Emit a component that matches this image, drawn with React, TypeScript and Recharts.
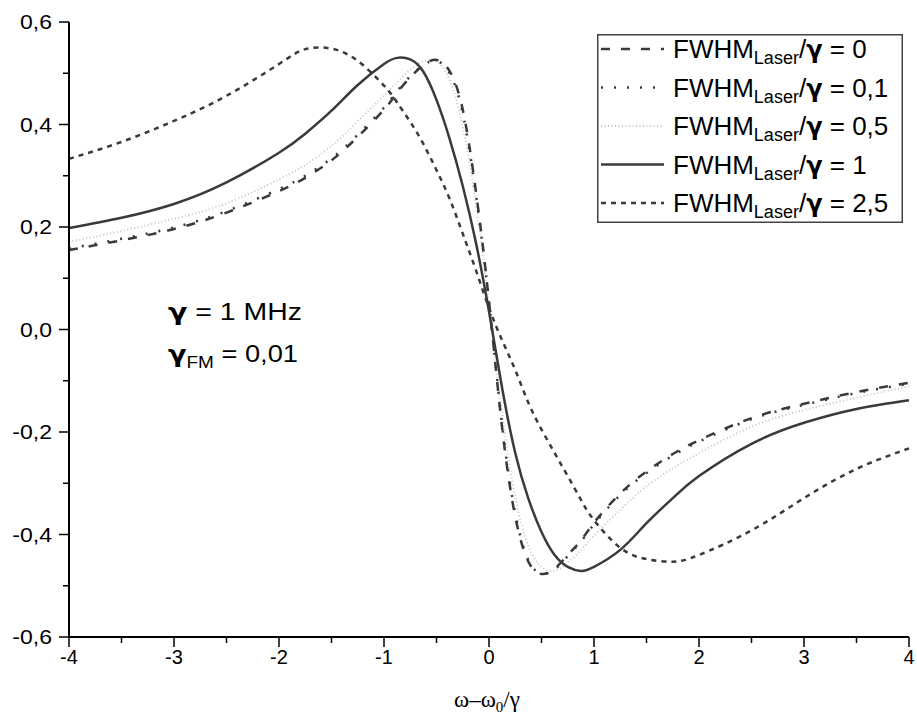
import { Legend, Line, LineChart, XAxis, YAxis } from "recharts";

// x positions (ω−ω0)/γ
const xs = [-4, -3.5, -3, -2.5, -2, -1.75, -1.5, -1.25, -1, -0.875, -0.75, -0.625, -0.5, -0.375, -0.25, -0.125, 0, 0.125, 0.25, 0.375, 0.5, 0.625, 0.75, 0.875, 1, 1.25, 1.5, 1.75, 2, 2.5, 3, 3.5, 4];

// FWHM_Laser/γ = 0
const fw0 = [0.155, 0.174, 0.196, 0.228, 0.27, 0.296, 0.33, 0.376, 0.429, 0.462, 0.492, 0.516, 0.526, 0.504, 0.429, 0.27, 0.055, -0.192, -0.365, -0.453, -0.477, -0.467, -0.44, -0.412, -0.377, -0.32, -0.277, -0.243, -0.216, -0.173, -0.145, -0.122, -0.104];
// FWHM_Laser/γ = 0,1
const fw01 = [0.158, 0.177, 0.199, 0.231, 0.274, 0.3, 0.334, 0.38, 0.433, 0.465, 0.494, 0.516, 0.524, 0.5, 0.422, 0.265, 0.055, -0.187, -0.359, -0.45, -0.476, -0.468, -0.442, -0.414, -0.38, -0.323, -0.28, -0.246, -0.219, -0.175, -0.147, -0.124, -0.106];
// FWHM_Laser/γ = 0,5
const fw05 = [0.171, 0.192, 0.216, 0.246, 0.293, 0.321, 0.358, 0.406, 0.457, 0.482, 0.507, 0.523, 0.523, 0.487, 0.396, 0.245, 0.047, -0.165, -0.327, -0.423, -0.463, -0.471, -0.455, -0.431, -0.402, -0.352, -0.306, -0.271, -0.241, -0.19, -0.157, -0.133, -0.111];
// FWHM_Laser/γ = 1
const fw1 = [0.198, 0.218, 0.245, 0.287, 0.345, 0.382, 0.427, 0.477, 0.518, 0.53, 0.527, 0.503, 0.448, 0.372, 0.28, 0.17, 0.035, -0.114, -0.241, -0.33, -0.395, -0.44, -0.463, -0.471, -0.463, -0.43, -0.378, -0.329, -0.286, -0.223, -0.182, -0.155, -0.138];
// FWHM_Laser/γ = 2,5
const fw25 = [0.333, 0.366, 0.407, 0.456, 0.518, 0.547, 0.548, 0.524, 0.476, 0.443, 0.405, 0.362, 0.311, 0.255, 0.187, 0.116, 0.042, -0.021, -0.079, -0.143, -0.195, -0.241, -0.286, -0.332, -0.372, -0.426, -0.448, -0.453, -0.44, -0.392, -0.329, -0.272, -0.232];

const xTicks = [-4, -3.5, -3, -2.5, -2, -1.5, -1, -0.5, 0, 0.5, 1, 1.5, 2, 2.5, 3, 3.5, 4];
const yTicks = [-0.6, -0.5, -0.4, -0.3, -0.2, -0.1, 0, 0.1, 0.2, 0.3, 0.4, 0.5, 0.6];
const legendLabels = ["0", "0,1", "0,5", "1", "2,5"];

const data = xs.map((x, i) => ({ x, a: fw0[i], b: fw01[i], c: fw05[i], d: fw1[i], e: fw25[i] }));

const dark = "#3a3a3a";
const font = "'Liberation Sans', Arial, sans-serif";
const greek = "'DejaVu Sans', sans-serif";

const series = [
  { key: "a", stroke: dark, width: 2.5, dash: "9 11" },
  { key: "b", stroke: dark, width: 2.5, dash: "2 11" },
  { key: "c", stroke: "#c4c4c4", width: 2, dash: "1 2.5" },
  { key: "d", stroke: dark, width: 2.5, dash: undefined },
  { key: "e", stroke: dark, width: 2.5, dash: "5 5" },
];

function YTick({ x, y, payload }: any) {
  const v = payload.value as number;
  const major = Math.round(v * 10) % 2 === 0;
  return (
    <g>
      <line x1={x} x2={x - (major ? 10 : 6)} y1={y} y2={y} stroke="#000" strokeWidth={1.5} />
      {major && (
        <text transform={`translate(${x - 17},${y + 7}) scale(1.15,1)`} textAnchor="end" fontSize={20} fontFamily={font} fill="#000">
          {v.toFixed(1).replace(".", ",")}
        </text>
      )}
    </g>
  );
}

function XTick({ x, y, payload }: any) {
  const v = payload.value as number;
  const major = Number.isInteger(v);
  return (
    <g>
      <line x1={x} x2={x} y1={y} y2={y + (major ? 10 : 6)} stroke="#000" strokeWidth={1.5} />
      {major && (
        <text x={x} y={y + 27} textAnchor="middle" fontSize={20} fontFamily={font} fill="#000">
          {v}
        </text>
      )}
    </g>
  );
}

function LegendBox() {
  const rows = [15, 53.5, 92, 130.5, 169];
  return (
    <svg width={306} height={189} style={{ display: "block" }}>
      <rect x={0.75} y={0.75} width={304.5} height={187.5} fill="#fff" stroke="#444" strokeWidth={1.5} />
      {series.map((s, i) => (
        <g key={s.key}>
          <line x1={4} x2={67} y1={rows[i]} y2={rows[i]} stroke={s.stroke} strokeWidth={s.width} strokeDasharray={s.dash} />
          <text x={76} y={rows[i] + 9} fontSize={26} fontFamily={font} fill="#000">
            FWHM<tspan fontSize={18} dy={6}>Laser</tspan>
            <tspan dy={-6}>/</tspan>
            <tspan fontFamily={greek} fontWeight={700} fontSize={24}>γ</tspan> = {legendLabels[i]}
          </text>
        </g>
      ))}
    </svg>
  );
}

export default function App() {
  return (
    <div style={{ position: "absolute", left: 0, top: 0, width: 917, height: 718, background: "#fff" }}>
      <LineChart width={917} height={718} data={data} margin={{ top: 22, right: 8, bottom: 40, left: 0 }}>
        <XAxis
          dataKey="x"
          type="number"
          domain={[-4, 4]}
          ticks={xTicks}
          interval={0}
          tickSize={0}
          tickMargin={0}
          tickLine={false}
          height={41}
          axisLine={{ stroke: "#000", strokeWidth: 2 }}
          tick={<XTick />}
        />
        <YAxis
          type="number"
          domain={[-0.6, 0.6]}
          ticks={yTicks}
          interval={0}
          tickSize={0}
          tickMargin={0}
          tickLine={false}
          width={69}
          axisLine={{ stroke: "#000", strokeWidth: 2 }}
          tick={<YTick />}
        />
        <Legend
          layout="horizontal"
          align="center"
          verticalAlign="middle"
          wrapperStyle={{ position: "absolute", left: 597, top: 34, width: 306, height: 189 }}
          content={() => <LegendBox />}
        />
        {[series[2], series[0], series[1], series[3], series[4]].map((s) => (
          <Line
            key={s.key}
            dataKey={s.key}
            type="natural"
            stroke={s.stroke}
            strokeWidth={s.width}
            strokeDasharray={s.dash}
            dot={false}
            activeDot={false}
            isAnimationActive={false}
          />
        ))}
      </LineChart>
      <svg width={917} height={718} style={{ position: "absolute", left: 0, top: 0, pointerEvents: "none" }}>
        <text x={168} y={320} fontSize={23} fontFamily={font} textLength={134} lengthAdjust="spacingAndGlyphs">
          <tspan fontFamily={greek} fontWeight={700}>γ</tspan> = 1 MHz
        </text>
        <text x={168} y={362} fontSize={23} fontFamily={font} textLength={130} lengthAdjust="spacingAndGlyphs">
          <tspan fontFamily={greek} fontWeight={700}>γ</tspan>
          <tspan fontSize={16} dy={6}>FM</tspan>
          <tspan dy={-6}> = 0,01</tspan>
        </text>
        <text x={487} y={707} textAnchor="middle" fontSize={23} fontFamily="'Liberation Serif', 'Times New Roman', serif">
          ω–ω<tspan fontSize={15} dy={5}>0</tspan>
          <tspan dy={-5}>/γ</tspan>
        </text>
      </svg>
    </div>
  );
}
